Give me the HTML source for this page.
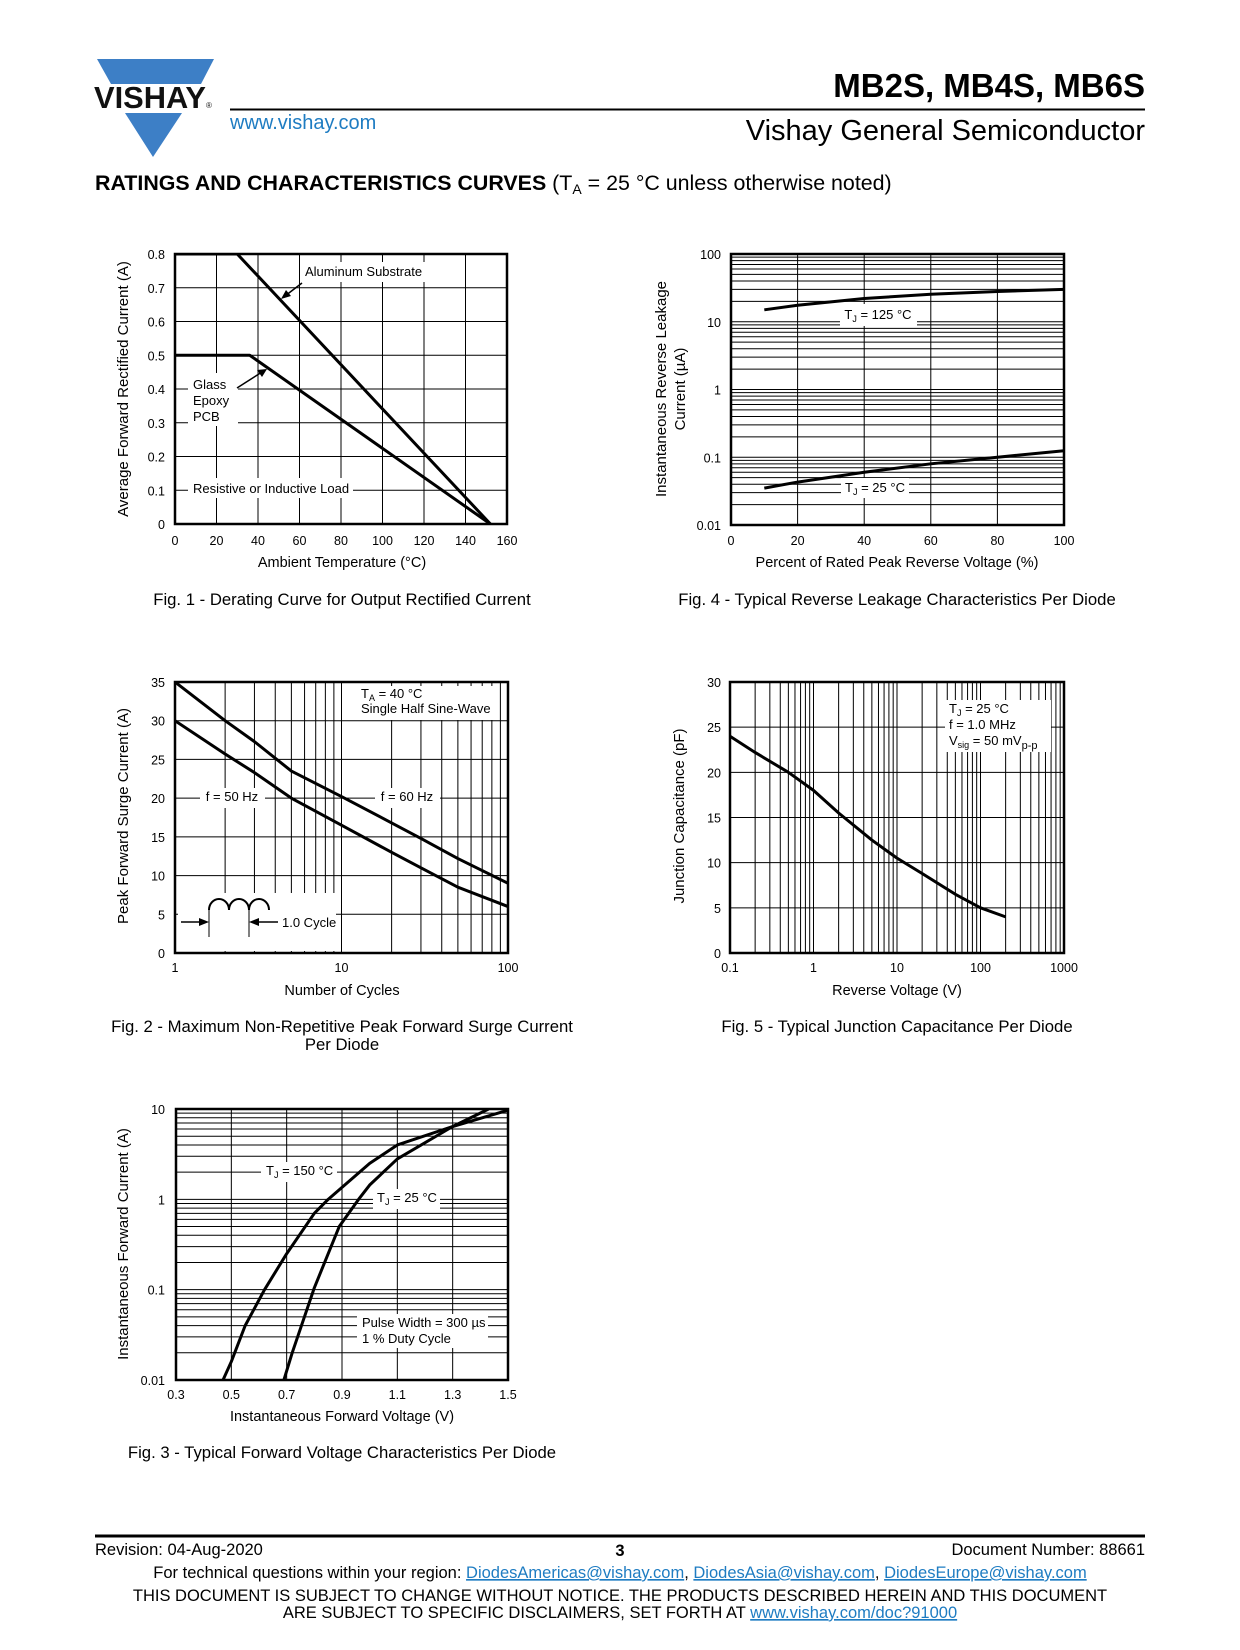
<!DOCTYPE html>
<html><head><meta charset="utf-8">
<style>
html,body{margin:0;padding:0;background:#fff;}
svg{display:block;font-family:"Liberation Sans",Arial,sans-serif;}
</style></head>
<body>
<svg id="page" width="1240" height="1650" viewBox="0 0 1240 1650" xmlns="http://www.w3.org/2000/svg">
<g>
<polygon points="97,59 214,59 201,84 111,84" fill="#3d7fc6"/>
<polygon points="125,113 182,113 153,157" fill="#3d7fc6"/>
<text x="94" y="108" font-size="31" font-weight="bold" fill="#111" textLength="112" lengthAdjust="spacingAndGlyphs">VISHAY</text>
<text x="206" y="108" font-size="8" fill="#111">®</text>
</g>
<text x="1145" y="97" font-size="33" font-weight="bold" text-anchor="end">MB2S, MB4S, MB6S</text>
<line x1="230" y1="109.5" x2="1145" y2="109.5" stroke="#000" stroke-width="2"/>
<text x="230" y="129" font-size="20" fill="#1e7cc2">www.vishay.com</text>
<text x="1145" y="140" font-size="29" text-anchor="end">Vishay General Semiconductor</text>
<text x="95" y="190" font-size="21.4"><tspan font-weight="bold">RATINGS AND CHARACTERISTICS CURVES</tspan> (T<tspan font-size="14" dy="4">A</tspan><tspan dy="-4"> = 25 °C unless otherwise noted)</tspan></text>

<g id="charts"></g>

<g font-size="16.5">
<line x1="95" y1="1536" x2="1145" y2="1536" stroke="#000" stroke-width="3"/>
<text x="95" y="1555">Revision: 04-Aug-2020</text>
<text x="620" y="1556" font-weight="bold" text-anchor="middle">3</text>
<text x="1145" y="1555" text-anchor="end">Document Number: 88661</text>
<text x="620" y="1578" text-anchor="middle">For technical questions within your region: <tspan fill="#1e7cc2" text-decoration="underline">DiodesAmericas@vishay.com</tspan>, <tspan fill="#1e7cc2" text-decoration="underline">DiodesAsia@vishay.com</tspan>, <tspan fill="#1e7cc2" text-decoration="underline">DiodesEurope@vishay.com</tspan></text>
<text x="620" y="1601" text-anchor="middle">THIS DOCUMENT IS SUBJECT TO CHANGE WITHOUT NOTICE. THE PRODUCTS DESCRIBED HEREIN AND THIS DOCUMENT</text>
<text x="620" y="1618" text-anchor="middle">ARE SUBJECT TO SPECIFIC DISCLAIMERS, SET FORTH AT <tspan fill="#1e7cc2" text-decoration="underline">www.vishay.com/doc?91000</tspan></text>
</g>
</svg>
<script>
// Fig 1 data
const f1Temp = [0, 30, 152];
const f1Alum = [0.8, 0.8, 0];
const f1GlassTemp = [0, 36, 152];
const f1Glass = [0.5, 0.5, 0];
const f1XTicks = [0,20,40,60,80,100,120,140,160];
const f1YTicks = [0,0.1,0.2,0.3,0.4,0.5,0.6,0.7,0.8];
// Fig 4 data
const f4Pct = [10,20,40,60,80,100];
const f4T125 = [15,17.5,22,25.5,28,30];
const f4T25 = [0.035,0.043,0.06,0.08,0.1,0.125];
const f4XTicks = [0,20,40,60,80,100];
const f4YTicks = [0.01,0.1,1,10,100];
// Fig 2 data
const f2Cycles = [1,2,3,5,10,20,30,50,100];
const f2Hz60 = [35,30,27.3,23.5,20.2,16.8,14.8,12.2,9];
const f2Hz50 = [30,25.7,23.3,20,16.5,13,11,8.5,6];
const f2XTicks = [1,10,100];
const f2YTicks = [0,5,10,15,20,25,30,35];
// Fig 5 data
const f5Volt = [0.1,0.2,0.5,1,2,5,10,20,50,100,200];
const f5Cap = [24,22.2,20,18,15.5,12.5,10.5,8.8,6.5,5,4];
const f5XTicks = [0.1,1,10,100,1000];
const f5YTicks = [0,5,10,15,20,25,30];
// Fig 3 data
const f3V150 = [0.47,0.5,0.55,0.62,0.7,0.8,0.85,1.0,1.1,1.3,1.5];
const f3I150 = [0.01,0.016,0.04,0.1,0.25,0.7,1,2.5,4,6.4,9.7];
const f3V25 = [0.69,0.72,0.8,0.89,0.96,1.0,1.1,1.3,1.43];
const f3I25 = [0.01,0.02,0.105,0.5,1,1.44,2.8,6.4,10];
const f3XTicks = [0.3,0.5,0.7,0.9,1.1,1.3,1.5];
const f3YTicks = [0.01,0.1,1,10];

const NS='http://www.w3.org/2000/svg';
const root=document.getElementById('charts');
function el(tag,attrs,parent){const e=document.createElementNS(NS,tag);for(const k in attrs)e.setAttribute(k,attrs[k]);(parent||root).appendChild(e);return e;}
function txt(s,x,y,size,anchor,parent){const t=el('text',{x:x,y:y,'font-size':size,'text-anchor':anchor||'start'},parent);t.textContent=s;return t;}
function linScale(d0,d1,r0,r1){return v=>r0+(v-d0)/(d1-d0)*(r1-r0);}
function logScale(d0,d1,r0,r1){return v=>r0+(Math.log10(v)-Math.log10(d0))/(Math.log10(d1)-Math.log10(d0))*(r1-r0);}
function logMinor(d0,d1){const a=[];for(let p=Math.log10(d0);p<Math.log10(d1)-1e-9;p++){for(let m=1;m<10;m++)a.push(m*Math.pow(10,p));}a.push(d1);return a;}
function frame(g,b){el('rect',{x:b.l,y:b.t,width:b.r-b.l,height:b.b-b.t,fill:'none',stroke:'#000','stroke-width':2.5},g);}
function vline(g,x,b){el('line',{x1:x,y1:b.t,x2:x,y2:b.b,stroke:'#000','stroke-width':1},g);}
function hline(g,y,b){el('line',{x1:b.l,y1:y,x2:b.r,y2:y,stroke:'#000','stroke-width':1},g);}
function curve(g,xs,ys,sx,sy,name,b){
  const clip='clip'+name;
  const cp=el('clipPath',{id:clip},g);el('rect',{x:b.l,y:b.t,width:b.r-b.l,height:b.b-b.t},cp);
  const p=el('polyline',{points:xs.map((x,i)=>sx(x)+','+sy(ys[i])).join(' '),fill:'none',stroke:'#000','stroke-width':3,'stroke-linejoin':'round','clip-path':'url(#'+clip+')'},g);
  
  
  return p;
}
function whiteBox(g,x,y,w,h){el('rect',{x:x,y:y,width:w,height:h,fill:'#fff'},g);}
function ytitle(g,lines,x,y){lines.forEach((s,i)=>{const t=txt(s,0,0,15,'middle',g);t.setAttribute('transform','translate('+(x+i*19)+','+y+') rotate(-90)');});}
function fmt(v){return String(v);}
const CAP=16.7;

// ---------- Fig 1
(function(){
  const g=el('g',{});
  
  
  const b={l:175,r:507,t:254,b:524};
  const sx=linScale(0,160,b.l,b.r), sy=linScale(0,0.8,b.b,b.t);
  f1XTicks.forEach(v=>{vline(g,sx(v),b);txt(fmt(v),sx(v),545,12.5,'middle',g);});
  f1YTicks.forEach(v=>{hline(g,sy(v),b);txt(fmt(v),165,sy(v)+5,12.5,'end',g);});
  whiteBox(g,300,262,128,20);
  whiteBox(g,188,373,50,53);
  whiteBox(g,188,478,165,20);
  curve(g,f1Temp,f1Alum,sx,sy,'aluminum-substrate-line',b);
  curve(g,f1GlassTemp,f1Glass,sx,sy,'glass-epoxy-line',b);
  frame(g,b);
  txt('Aluminum Substrate',305,276,13,'start',g);
  el('line',{x1:302,y1:283,x2:285,y2:296,stroke:'#000','stroke-width':1.5},g);
  el('polygon',{points:'281,299 286,290 291,296',fill:'#000'},g);
  txt('Glass',193,389,13,'start',g);txt('Epoxy',193,405,13,'start',g);txt('PCB',193,421,13,'start',g);
  el('line',{x1:237,y1:388,x2:262,y2:372,stroke:'#000','stroke-width':1.5},g);
  el('polygon',{points:'267,369 257,370 262,377',fill:'#000'},g);
  txt('Resistive or Inductive Load',193,493,13,'start',g);
  ytitle(g,['Average Forward Rectified Current (A)'],128,389);
  txt('Ambient Temperature (°C)',342,567,14.5,'middle',g);
  txt('Fig. 1 - Derating Curve for Output Rectified Current',342,605,CAP,'middle',g);
})();

// ---------- Fig 4
(function(){
  const g=el('g',{});
  
  
  const b={l:731,r:1064,t:254,b:525};
  const sx=linScale(0,100,b.l,b.r), sy=logScale(0.01,100,b.b,b.t);
  f4XTicks.forEach(v=>{vline(g,sx(v),b);txt(fmt(v),sx(v),545,12.5,'middle',g);});
  logMinor(0.01,100).forEach(v=>hline(g,sy(v),b));
  f4YTicks.forEach(v=>txt(fmt(v),721,sy(v)+5,12.5,'end',g));
  whiteBox(g,840,304,77,22);
  whiteBox(g,841,478,68,20);
  curve(g,f4Pct,f4T125,sx,sy,'tj125-leakage-line',b);
  curve(g,f4Pct,f4T25,sx,sy,'tj25-leakage-line',b);
  frame(g,b);
  const t1=txt('',878,319,13,'middle',g);t1.innerHTML='T<tspan font-size="9" dy="3">J</tspan><tspan dy="-3"> = 125 °C</tspan>';
  const t2=txt('',875,492,13,'middle',g);t2.innerHTML='T<tspan font-size="9" dy="3">J</tspan><tspan dy="-3"> = 25 °C</tspan>';
  ytitle(g,['Instantaneous Reverse Leakage','Current (µA)'],666,389);
  txt('Percent of Rated Peak Reverse Voltage (%)',897,567,14.5,'middle',g);
  txt('Fig. 4 - Typical Reverse Leakage Characteristics Per Diode',897,605,CAP,'middle',g);
})();

// ---------- Fig 2
(function(){
  const g=el('g',{});
  
  
  const b={l:175,r:508,t:682,b:953};
  const sx=logScale(1,100,b.l,b.r), sy=linScale(0,35,b.b,b.t);
  logMinor(1,100).forEach(v=>vline(g,sx(v),b));
  f2XTicks.forEach(v=>txt(fmt(v),sx(v),972,12.5,'middle',g));
  f2YTicks.forEach(v=>{hline(g,sy(v),b);txt(fmt(v),165,sy(v)+5,12.5,'end',g);});
  whiteBox(g,356,686,142,34);
  whiteBox(g,200,788,65,20);
  whiteBox(g,375,788,65,20);
  whiteBox(g,178,893,158,58);
  curve(g,f2Cycles,f2Hz60,sx,sy,'f60hz-surge-line',b);
  curve(g,f2Cycles,f2Hz50,sx,sy,'f50hz-surge-line',b);
  frame(g,b);
  const t=txt('',361,698,13,'start',g);t.innerHTML='T<tspan font-size="9" dy="3">A</tspan><tspan dy="-3"> = 40 °C</tspan>';
  txt('Single Half Sine-Wave',361,713,13,'start',g);
  txt('f = 50 Hz',232,801,13,'middle',g);
  txt('f = 60 Hz',407,801,13,'middle',g);
  el('path',{d:'M209,910 A10,11 0 0 1 229,910 A10,11 0 0 1 249,910 A10,11 0 0 1 269,910',fill:'none',stroke:'#000','stroke-width':2},g);
  el('line',{x1:209,y1:908,x2:209,y2:937,stroke:'#000','stroke-width':1},g);
  el('line',{x1:249,y1:908,x2:249,y2:937,stroke:'#000','stroke-width':1},g);
  el('line',{x1:181,y1:922,x2:200,y2:922,stroke:'#000','stroke-width':1.5},g);
  el('polygon',{points:'209,922 199,918 199,926',fill:'#000'},g);
  el('line',{x1:258,y1:922,x2:278,y2:922,stroke:'#000','stroke-width':1.5},g);
  el('polygon',{points:'249,922 259,918 259,926',fill:'#000'},g);
  txt('1.0 Cycle',282,927,13,'start',g);
  ytitle(g,['Peak Forward Surge Current (A)'],128,816);
  txt('Number of Cycles',342,995,14.5,'middle',g);
  txt('Fig. 2 - Maximum Non-Repetitive Peak Forward Surge Current',342,1032,CAP,'middle',g);
  txt('Per Diode',342,1050,CAP,'middle',g);
})();

// ---------- Fig 5
(function(){
  const g=el('g',{});
  
  
  const b={l:730,r:1064,t:682,b:953};
  const sx=logScale(0.1,1000,b.l,b.r), sy=linScale(0,30,b.b,b.t);
  logMinor(0.1,1000).forEach(v=>vline(g,sx(v),b));
  f5XTicks.forEach(v=>txt(fmt(v),sx(v),972,12.5,'middle',g));
  f5YTicks.forEach(v=>{hline(g,sy(v),b);txt(fmt(v),721,sy(v)+5,12.5,'end',g);});
  whiteBox(g,945,700,106,52);
  curve(g,f5Volt,f5Cap,sx,sy,'capacitance-line',b);
  frame(g,b);
  const t1=txt('',949,713,13,'start',g);t1.innerHTML='T<tspan font-size="9" dy="3">J</tspan><tspan dy="-3"> = 25 °C</tspan>';
  txt('f = 1.0 MHz',949,729,13,'start',g);
  const t3=txt('',949,745,13,'start',g);t3.innerHTML='V<tspan font-size="9" dy="3">sig</tspan><tspan dy="-3"> = 50 mV</tspan><tspan font-size="11" dy="4">p-p</tspan>';
  ytitle(g,['Junction Capacitance (pF)'],684,816);
  txt('Reverse Voltage (V)',897,995,14.5,'middle',g);
  txt('Fig. 5 - Typical Junction Capacitance Per Diode',897,1032,CAP,'middle',g);
})();

// ---------- Fig 3
(function(){
  const g=el('g',{});
  
  
  const b={l:176,r:508,t:1109,b:1380};
  const sx=linScale(0.3,1.5,b.l,b.r), sy=logScale(0.01,10,b.b,b.t);
  f3XTicks.forEach(v=>{vline(g,sx(v),b);txt(fmt(v),sx(v),1399,12.5,'middle',g);});
  logMinor(0.01,10).forEach(v=>hline(g,sy(v),b));
  f3YTicks.forEach(v=>txt(fmt(v),165,sy(v)+5,12.5,'end',g));
  whiteBox(g,261,1162,76,20);
  whiteBox(g,373,1189,67,20);
  whiteBox(g,357,1314,131,34);
  curve(g,f3V150,f3I150,sx,sy,'tj150-forward-line',b);
  curve(g,f3V25,f3I25,sx,sy,'tj25-forward-line',b);
  frame(g,b);
  const t1=txt('',266,1175,13,'start',g);t1.innerHTML='T<tspan font-size="9" dy="3">J</tspan><tspan dy="-3"> = 150 °C</tspan>';
  const t2=txt('',377,1202,13,'start',g);t2.innerHTML='T<tspan font-size="9" dy="3">J</tspan><tspan dy="-3"> = 25 °C</tspan>';
  txt('Pulse Width = 300 µs',362,1327,13,'start',g);
  txt('1 % Duty Cycle',362,1343,13,'start',g);
  ytitle(g,['Instantaneous Forward Current (A)'],128,1244);
  txt('Instantaneous Forward Voltage (V)',342,1421,14.5,'middle',g);
  txt('Fig. 3 - Typical Forward Voltage Characteristics Per Diode',342,1458,CAP,'middle',g);
})();
</script>
</body></html>
